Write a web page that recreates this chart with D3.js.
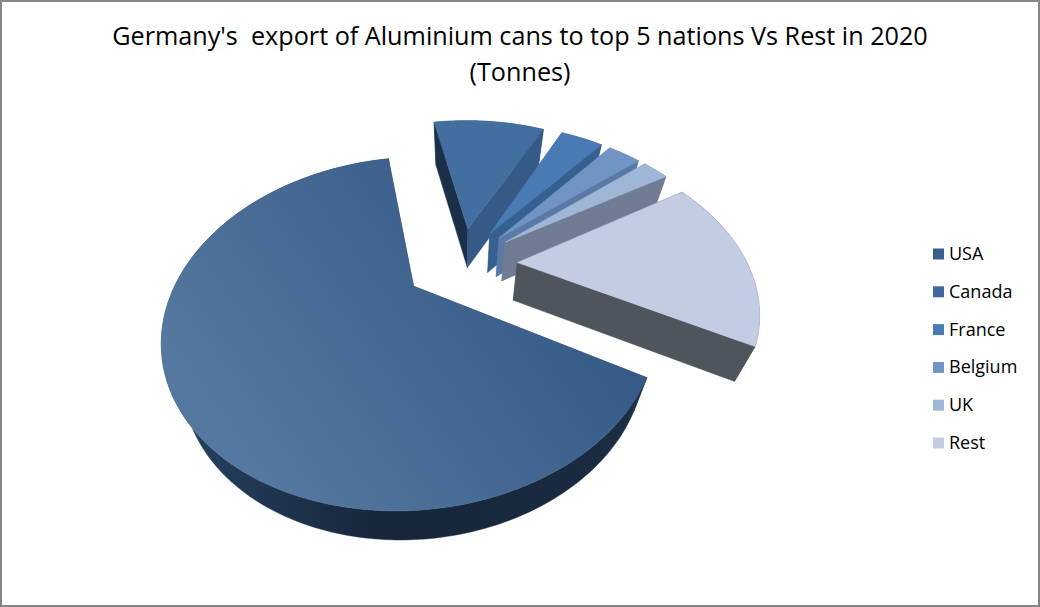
<!DOCTYPE html>
<html><head><meta charset="utf-8"><style>html,body{margin:0;padding:0;background:#fff}svg{display:block}</style>
<script src="https://cdn.jsdelivr.net/npm/d3@7"></script></head><body><svg id="c" width="1040" height="607"></svg>
<script>
const categories=["USA","Canada","France","Belgium","UK","Rest"];
const values=[63.9,10.1,3.8,2.9,2.3,16.9];
const titleLines=["Germany's  export of Aluminium cans to top 5 nations Vs Rest in 2020","(Tonnes)"];
const topColors=["#3f6690","#426f9f","#4a7ab3","#7094c4","#9fb6d6","#c2cde4"];
const legendColors=["#3b5f8c","#42699b","#4a7ab3","#7094c4","#9fb6d6","#c2cde4"];
const startWall=["#1c3048","#1b2f49","#3c6a9f","#4f75a8","#6f7f9c","#4e555c"];
const endWall=["#1c3048","#345a85","#36608f","#5a7aa6","#6f7c93","#4e555c"];
const outerWall=["url(#usaWall)","#2a4a70","#36608f","#5a7aa6","#6f7c93","#4e555c"];
const drawOrder=[1,2,3,4,5,0];

const svg=d3.select("#c");
const defs=svg.append("defs");
const g1=defs.append("linearGradient").attr("id","usaTop").attr("gradientUnits","userSpaceOnUse")
 .attr("x1",230).attr("y1",430).attr("x2",520).attr("y2",220);
g1.append("stop").attr("offset",0).attr("stop-color","#54789f");
g1.append("stop").attr("offset",1).attr("stop-color","#365b87");
const g2=defs.append("linearGradient").attr("id","usaWall").attr("gradientUnits","userSpaceOnUse")
 .attr("x1",190).attr("y1",0).attr("x2",640).attr("y2",0);
g2.append("stop").attr("offset",0).attr("stop-color","#24405f");
g2.append("stop").attr("offset",.45).attr("stop-color","#172538");
g2.append("stop").attr("offset",1).attr("stop-color","#1b2d44");

// frame
svg.append("rect").attr("x",1).attr("y",1).attr("width",1038).attr("height",605)
 .attr("fill","#fff").attr("stroke","#868686").attr("stroke-width",2);

// title
svg.append("g").selectAll("text").data(titleLines).join("text")
 .attr("x",520).attr("y",(d,i)=>45+i*36).attr("text-anchor","middle")
 .attr("font-family","'Open Sans'").attr("font-size",25.2).attr("fill","#000").style("white-space","pre")
 .text(d=>d);

// pie layout: clockwise, no sort
const startA=119*Math.PI/180;
const pie=d3.pie().sort(null).startAngle(startA).endAngle(startA+2*Math.PI);
const arcs=pie(values);

// projection of the tilted disc
const cx=461,cy=263.5,R=230,B=152,K=.26,EX=.245;
const proj=(u,v)=>{const f=1/(1+K*v);return [cx+R*u*f,cy-B*v*f];};
const lower=p=>[460+(p[0]-460)*.93,p[1]*.965+47];
const line=d3.line();

const layer=svg.append("g");
drawOrder.forEach(i=>{
  const a=arcs[i],mid=(a.startAngle+a.endAngle)/2;
  const ox=EX*Math.sin(mid),oy=EX*Math.cos(mid);
  const apex=proj(ox,oy);
  const n=Math.max(8,Math.ceil((a.endAngle-a.startAngle)*60));
  const rim=d3.range(n+1).map(k=>{
    const t=a.startAngle+(a.endAngle-a.startAngle)*k/n;
    return proj(ox+Math.sin(t),oy+Math.cos(t));
  });
  const s=layer.append("g");
  const quad=(pa,fill)=>s.append("path").attr("d",line(pa)+"Z").attr("fill",fill).attr("stroke",fill).attr("stroke-width",.4);
  quad(rim.concat(rim.slice().reverse().map(lower)),outerWall[i]);
  quad([apex,rim[0],lower(rim[0]),lower(apex)],startWall[i]);
  quad([apex,rim[n],lower(rim[n]),lower(apex)],endWall[i]);
  const fill=i===0?"url(#usaTop)":topColors[i];
  s.append("path").attr("d",line([apex].concat(rim))+"Z").attr("fill",fill).attr("stroke",fill).attr("stroke-width",.6);
});

// legend
const y=d3.scalePoint().domain(categories).range([254,443]);
const lg=svg.append("g").selectAll("g").data(categories).join("g").attr("transform",d=>`translate(933,${y(d)})`);
lg.append("rect").attr("y",-5.5).attr("width",11).attr("height",11).attr("fill",(d,i)=>legendColors[i]);
lg.append("text").attr("x",16).attr("y",6).attr("font-family","'Open Sans'").attr("font-size",18).attr("fill","#000").text(d=>d);
</script></body></html>
